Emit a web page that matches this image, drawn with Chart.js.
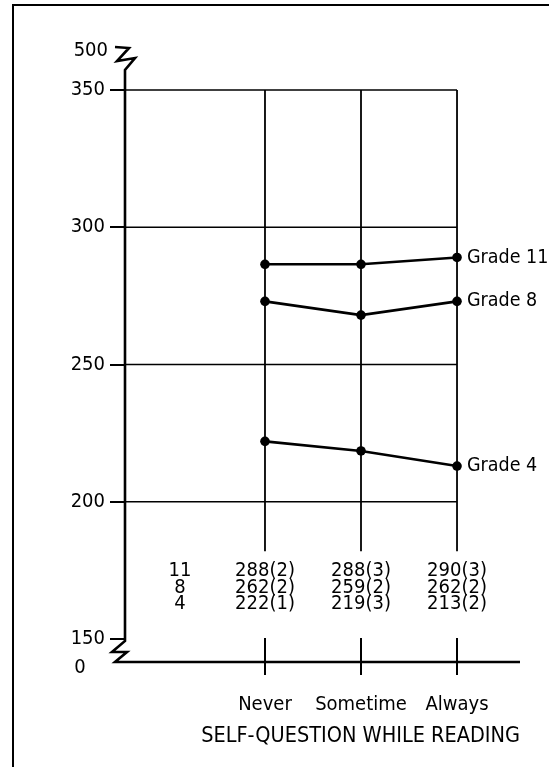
<!DOCTYPE html>
<html>
<head>
<meta charset="utf-8">
<script src="https://cdn.jsdelivr.net/npm/chart.js@4/dist/chart.umd.min.js"></script>
<style>
  html, body { margin: 0; padding: 0; background: #fff; }
  canvas { display: block; }
</style>
</head>
<body>
<canvas id="chart" width="549" height="767"></canvas>
<script>
// plotted values and the printed table
const categories = ["Never", "Sometime", "Always"];
const grade11 = [286.5, 286.5, 289];
const grade8 = [273, 268, 273];
const grade4 = [222, 218.5, 213];
const seriesNames = ["Grade 11", "Grade 8", "Grade 4"];
const yTicks = [150, 200, 250, 300, 350];
const breakLabels = ["500", "0"];
const tableGrades = ["11", "8", "4"];
const tableValues = [
  ["288(2)", "288(3)", "290(3)"],
  ["262(2)", "259(2)", "262(2)"],
  ["222(1)", "219(3)", "213(2)"]
];
const xTitle = "SELF-QUESTION WHILE READING";

const FONT = "'DejaVu Sans Condensed', 'Liberation Sans Narrow', sans-serif";
const toXY = arr => arr.map((v, i) => ({ x: i, y: v }));

const decor = {
  id: "decor",
  beforeDatasetsDraw(chart) {
    const ctx = chart.ctx;
    const x = chart.scales.x, y = chart.scales.y;
    const ax = chart.chartArea.left;
    const bottom = chart.chartArea.bottom;
    const xLast = x.getPixelForValue(categories.length - 1);
    ctx.save();
    ctx.strokeStyle = "#000";
    ctx.fillStyle = "#000";

    // page frame
    ctx.lineWidth = 2;
    ctx.beginPath();
    ctx.moveTo(13, 767); ctx.lineTo(13, 5); ctx.lineTo(549, 5);
    ctx.stroke();

    // horizontal grid lines
    ctx.lineWidth = 1.6;
    yTicks.filter(t => t > 150).forEach(t => {
      const py = y.getPixelForValue(t);
      ctx.beginPath(); ctx.moveTo(ax, py); ctx.lineTo(xLast, py); ctx.stroke();
    });
    // vertical grid lines
    ctx.lineWidth = 1.8;
    categories.forEach((c, i) => {
      const px = x.getPixelForValue(i);
      ctx.beginPath();
      ctx.moveTo(px, y.getPixelForValue(350));
      ctx.lineTo(px, y.getPixelForValue(182));
      ctx.stroke();
    });

    // y axis with breaks
    const xAxisY = bottom + 23;
    ctx.lineWidth = 2.6;
    ctx.beginPath();
    ctx.moveTo(ax - 10, 47); ctx.lineTo(ax + 4, 48); ctx.lineTo(ax - 8, 61);
    ctx.lineTo(ax + 10, 58); ctx.lineTo(ax, 70);
    ctx.lineTo(ax, bottom + 2);
    ctx.lineTo(ax - 13, bottom + 13); ctx.lineTo(ax + 2, bottom + 13);
    ctx.lineTo(ax - 10, xAxisY);
    ctx.lineTo(x.right, xAxisY);
    ctx.stroke();

    // category ticks across the x axis
    ctx.lineWidth = 2;
    categories.forEach((c, i) => {
      const px = x.getPixelForValue(i);
      ctx.beginPath(); ctx.moveTo(px, bottom - 1); ctx.lineTo(px, bottom + 36); ctx.stroke();
    });

    // break labels
    ctx.font = "20px " + FONT;
    ctx.textBaseline = "middle";
    ctx.textAlign = "right";
    ctx.fillText(breakLabels[0], ax - 17, 51);
    ctx.textAlign = "center";
    ctx.fillText(breakLabels[1], 80, bottom + 29);

    // table of means
    tableGrades.forEach((g, r) => {
      const ty = bottom - 68 + r * 16.5;
      ctx.fillText(g, 180, ty);
      tableValues[r].forEach((v, i) => ctx.fillText(v, x.getPixelForValue(i), ty));
    });
    ctx.restore();
  },
  afterDatasetsDraw(chart) {
    const ctx = chart.ctx;
    ctx.save();
    ctx.fillStyle = "#000";
    ctx.font = "19.5px " + FONT;
    ctx.textAlign = "left";
    ctx.textBaseline = "middle";
    chart.data.datasets.forEach((ds, i) => {
      const pt = chart.getDatasetMeta(i).data[ds.data.length - 1];
      ctx.fillText(seriesNames[i], pt.x + 10, pt.y);
    });
    ctx.restore();
  }
};

const lineStyle = {
  borderColor: "#000",
  backgroundColor: "#000",
  borderWidth: 2.6,
  pointRadius: 4.8,
  pointBackgroundColor: "#000",
  pointBorderWidth: 0,
  tension: 0,
  fill: false
};

new Chart(document.getElementById("chart"), {
  type: "line",
  data: {
    datasets: [
      { label: seriesNames[0], data: toXY(grade11), ...lineStyle },
      { label: seriesNames[1], data: toXY(grade8), ...lineStyle },
      { label: seriesNames[2], data: toXY(grade4), ...lineStyle }
    ]
  },
  options: {
    responsive: false,
    maintainAspectRatio: false,
    animation: false,
    devicePixelRatio: 1,
    layout: { padding: { top: 90, right: 29, left: 0, bottom: 0 } },
    plugins: { legend: { display: false }, tooltip: { enabled: false } },
    scales: {
      x: {
        type: "linear",
        min: -1.458,
        max: 2.656,
        afterFit: s => { s.height = 128; },
        afterBuildTicks: s => { s.ticks = categories.map((c, i) => ({ value: i })); },
        grid: { display: false, drawTicks: false },
        border: { display: false },
        ticks: {
          autoSkip: false,
          maxRotation: 0,
          padding: 54,
          color: "#000",
          font: { family: FONT, size: 20 },
          callback: v => categories[v]
        },
        title: {
          display: true,
          text: xTitle,
          align: "end",
          color: "#000",
          font: { family: FONT, size: 21.5 },
          padding: { top: 0, bottom: 18 }
        }
      },
      y: {
        min: 150,
        max: 350,
        afterFit: s => { s.width = 125; },
        afterBuildTicks: s => { s.ticks = yTicks.map(v => ({ value: v })); },
        grid: { drawOnChartArea: false, drawTicks: true, tickLength: 15, color: "#000", lineWidth: 2 },
        border: { display: false },
        ticks: {
          padding: 5,
          color: "#000",
          font: { family: FONT, size: 20 }
        }
      }
    }
  },
  plugins: [decor]
});
</script>
</body>
</html>
